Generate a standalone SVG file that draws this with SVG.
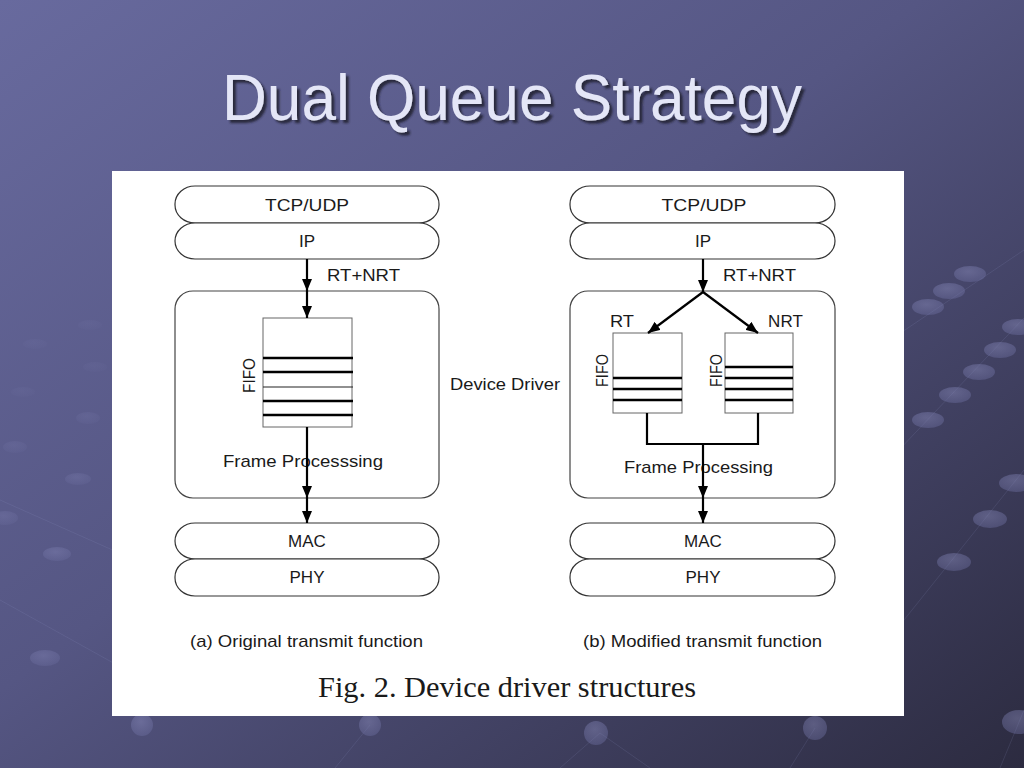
<svg xmlns="http://www.w3.org/2000/svg" width="1024" height="768" viewBox="0 0 1024 768">
<defs>
<linearGradient id="bg" x1="0" y1="0" x2="1" y2="1">
<stop offset="0" stop-color="#686a9e"/>
<stop offset="0.45" stop-color="#555683"/>
<stop offset="1" stop-color="#2c2b40"/>
</linearGradient>
<radialGradient id="dot" cx="0.45" cy="0.35" r="0.7">
<stop offset="0" stop-color="#9294c6"/>
<stop offset="1" stop-color="#6a6c9e"/>
</radialGradient>
<filter id="sh" x="-5%" y="-20%" width="110%" height="150%">
<feDropShadow dx="3" dy="3" stdDeviation="1" flood-color="#1b1a2e" flood-opacity="0.85"/>
</filter>
<marker id="ah" viewBox="0 0 12 10" refX="12" refY="5" markerWidth="12" markerHeight="10" markerUnits="userSpaceOnUse" orient="auto">
<path d="M0,0 L12,5 L0,10 z" fill="#000"/>
</marker>
<style>
.dot{fill:url(#dot);fill-opacity:0.42}
.f1{fill-opacity:0.08}
.f2{fill-opacity:0.14}
.f3{fill-opacity:0.22}
.f4{fill-opacity:0.32}
.bl{stroke:#9698c8;stroke-opacity:0.15;stroke-width:1;fill:none}
.pill{fill:#fff;stroke:#333;stroke-width:1.2}
.box{fill:#fff;stroke:#444;stroke-width:1.2}
.fifo{fill:#fff;stroke:#666;stroke-width:1}
.thk{stroke:#000;stroke-width:2.6}
.thn{stroke:#222;stroke-width:1.2}
.t{font-family:"Liberation Sans",Arial,sans-serif;font-size:17px;fill:#1a1a1a}
.c{text-anchor:middle}
.con{stroke:#000;stroke-width:2.2;fill:none}
</style>
</defs>
<rect x="0" y="0" width="1024" height="768" fill="url(#bg)"/>
<g id="decor">
<path class="bl" d="M1024,250 L890,340 M1024,318 L880,470 M1024,470 L880,650 M1024,710 L1000,768 M600,733 L560,768 M600,733 L650,768 M815,728 L790,768 M370,725 L335,768 M0,500 L180,580 M0,600 L180,700"/>
<ellipse class="dot" cx="970" cy="274" rx="16" ry="8"/>
<ellipse class="dot" cx="949" cy="291" rx="16" ry="8"/>
<ellipse class="dot" cx="928" cy="307" rx="16" ry="8"/>
<ellipse class="dot" cx="1018" cy="327" rx="16" ry="8"/>
<ellipse class="dot" cx="1000" cy="350" rx="16" ry="8"/>
<ellipse class="dot" cx="979" cy="372" rx="16" ry="8"/>
<ellipse class="dot" cx="955" cy="395" rx="16" ry="8"/>
<ellipse class="dot" cx="928" cy="420" rx="16" ry="8"/>
<ellipse class="dot" cx="1016" cy="483" rx="17" ry="9"/>
<ellipse class="dot" cx="990" cy="519" rx="17" ry="9"/>
<ellipse class="dot" cx="954" cy="562" rx="17" ry="9"/>
<ellipse class="dot" cx="1019" cy="722" rx="17" ry="12"/>
<ellipse class="dot" cx="142" cy="725" rx="11" ry="11"/>
<ellipse class="dot" cx="370" cy="725" rx="11" ry="11"/>
<ellipse class="dot" cx="596" cy="733" rx="12" ry="12"/>
<ellipse class="dot" cx="815" cy="728" rx="12" ry="12"/>
<ellipse class="dot f1" cx="90" cy="325" rx="12" ry="5"/>
<ellipse class="dot f1" cx="35" cy="344" rx="12" ry="5"/>
<ellipse class="dot f1" cx="95" cy="367" rx="12" ry="5"/>
<ellipse class="dot f1" cx="23" cy="392" rx="12" ry="5"/>
<ellipse class="dot f2" cx="88" cy="418" rx="12" ry="6"/>
<ellipse class="dot f2" cx="15" cy="447" rx="12" ry="6"/>
<ellipse class="dot f3" cx="78" cy="479" rx="13" ry="6"/>
<ellipse class="dot f3" cx="5" cy="518" rx="13" ry="7"/>
<ellipse class="dot f4" cx="57" cy="554" rx="14" ry="7"/>
<ellipse class="dot f4" cx="45" cy="658" rx="15" ry="8"/>
</g>
<text x="512" y="120" text-anchor="middle" font-family="'Liberation Sans',Arial,sans-serif" font-size="64" fill="#e4e6f7" textLength="580" lengthAdjust="spacingAndGlyphs" filter="url(#sh)">Dual Queue Strategy</text>
<rect id="panel" x="112" y="171" width="792" height="545" fill="#fff"/>

<g id="a-tcp"><rect class="pill" x="175" y="186" width="264" height="37" rx="20" ry="18"/><text class="t c" x="307" y="211" textLength="84" lengthAdjust="spacingAndGlyphs">TCP/UDP</text></g>
<g id="a-ip"><rect class="pill" x="175" y="223" width="264" height="36" rx="20" ry="18"/><text class="t c" x="307" y="247">IP</text></g>
<g id="a-dd"><rect class="box" x="175" y="291" width="264" height="207" rx="18" ry="18"/>
<text class="t" x="223" y="467" textLength="160" lengthAdjust="spacingAndGlyphs">Frame Processsing</text></g>
<g id="a-fifo">
<rect class="fifo" x="263" y="318" width="89" height="109"/>
<line class="thk" x1="263" y1="358" x2="353" y2="358"/>
<line class="thk" x1="263" y1="372" x2="353" y2="372"/>
<line class="thn" x1="263" y1="387" x2="353" y2="387"/>
<line class="thk" x1="263" y1="401" x2="353" y2="401"/>
<line class="thk" x1="263" y1="415" x2="353" y2="415"/>
<text class="t c" transform="translate(255,375.5) rotate(-90)" textLength="35" lengthAdjust="spacingAndGlyphs">FIFO</text>
</g>
<g id="a-mac"><rect class="pill" x="175" y="523" width="264" height="36" rx="20" ry="18"/><text class="t c" x="307" y="547">MAC</text></g>
<g id="a-phy"><rect class="pill" x="175" y="559" width="264" height="37" rx="20" ry="18"/><text class="t c" x="307" y="583">PHY</text></g>

<g id="b-tcp"><rect class="pill" x="570" y="186" width="265" height="37" rx="20" ry="18"/><text class="t c" x="704" y="211" textLength="85" lengthAdjust="spacingAndGlyphs">TCP/UDP</text></g>
<g id="b-ip"><rect class="pill" x="570" y="223" width="265" height="36" rx="20" ry="18"/><text class="t c" x="703" y="247">IP</text></g>
<g id="b-dd"><rect class="box" x="570" y="291" width="265" height="207" rx="18" ry="18"/>
<text class="t" x="624" y="473" textLength="149" lengthAdjust="spacingAndGlyphs">Frame Processing</text></g>
<g id="b-rt">
<rect class="fifo" x="613" y="333" width="69" height="80"/>
<line class="thk" x1="613" y1="378" x2="682" y2="378"/>
<line class="thk" x1="613" y1="389" x2="682" y2="389"/>
<line class="thk" x1="613" y1="400" x2="682" y2="400"/>
<text class="t c" transform="translate(608,370.5) rotate(-90)" textLength="33" lengthAdjust="spacingAndGlyphs">FIFO</text>
<text class="t" x="610" y="327" textLength="24" lengthAdjust="spacingAndGlyphs">RT</text>
</g>
<g id="b-nrt">
<rect class="fifo" x="725" y="333" width="68" height="80"/>
<line class="thk" x1="725" y1="367" x2="793" y2="367"/>
<line class="thk" x1="725" y1="378" x2="793" y2="378"/>
<line class="thk" x1="725" y1="389" x2="793" y2="389"/>
<line class="thk" x1="725" y1="400" x2="793" y2="400"/>
<text class="t c" transform="translate(722,370.5) rotate(-90)" textLength="33" lengthAdjust="spacingAndGlyphs">FIFO</text>
<text class="t" x="768" y="327" font-size="15" textLength="35">NRT</text>
</g>
<g id="b-mac"><rect class="pill" x="570" y="523" width="265" height="36" rx="20" ry="18"/><text class="t c" x="703" y="547">MAC</text></g>
<g id="b-phy"><rect class="pill" x="570" y="559" width="265" height="37" rx="20" ry="18"/><text class="t c" x="703" y="583">PHY</text></g>

<g id="labels">
<text class="t" x="327" y="281" textLength="73" lengthAdjust="spacingAndGlyphs">RT+NRT</text>
<text class="t" x="723" y="281" textLength="73" lengthAdjust="spacingAndGlyphs">RT+NRT</text>
<text class="t" x="450" y="390" textLength="110" lengthAdjust="spacingAndGlyphs">Device Driver</text>
<text class="t" x="190" y="647" textLength="233" lengthAdjust="spacingAndGlyphs">(a) Original transmit function</text>
<text class="t" x="583" y="647" textLength="239" lengthAdjust="spacingAndGlyphs">(b) Modified transmit function</text>
<text x="318" y="697" font-family="'Liberation Serif','Times New Roman',serif" font-size="30" fill="#1a1a1a" textLength="378" lengthAdjust="spacingAndGlyphs">Fig. 2. Device driver structures</text>
</g>

<g id="connectors">
<path class="con" d="M307,259 L307,291" marker-end="url(#ah)"/>
<path class="con" d="M307,291 L307,318" marker-end="url(#ah)"/>
<path class="con" d="M307,427 L307,498" marker-end="url(#ah)"/>
<path class="con" d="M307,498 L307,523" marker-end="url(#ah)"/>
<path class="con" d="M703,259 L703,292" marker-end="url(#ah)"/>
<path class="con" d="M703,292 L648,333" marker-end="url(#ah)"/>
<path class="con" d="M703,292 L758,333" marker-end="url(#ah)"/>
<path class="con" d="M647,413 L647,444 L758,444 L758,413"/>
<path class="con" d="M703,444 L703,498" marker-end="url(#ah)"/>
<path class="con" d="M703,498 L703,523" marker-end="url(#ah)"/>
</g>
</svg>
